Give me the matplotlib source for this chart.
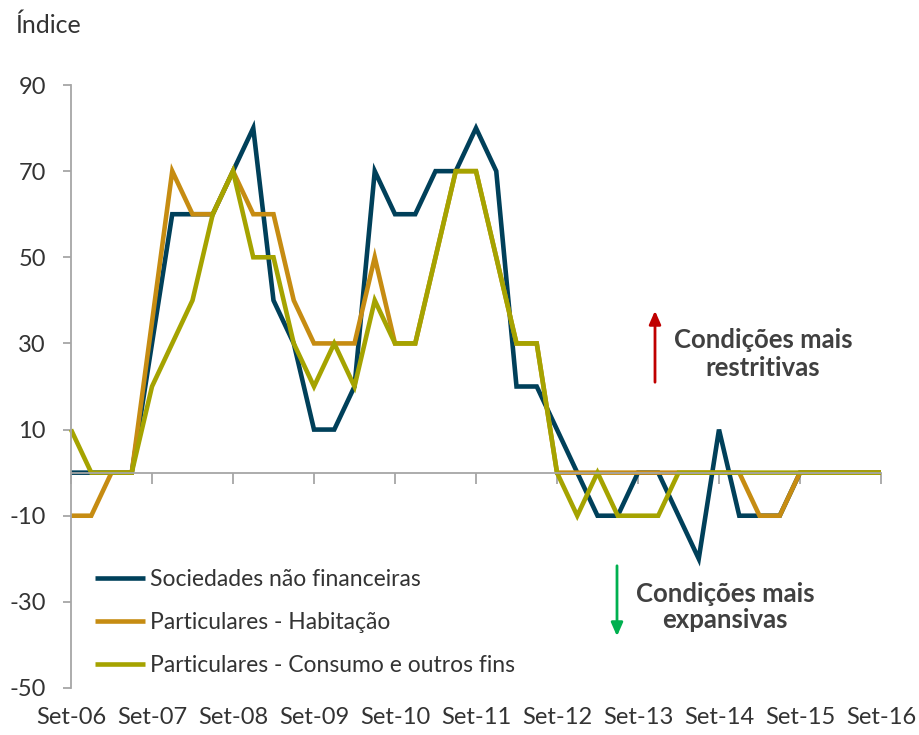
import matplotlib
matplotlib.use("Agg")
import matplotlib.pyplot as plt
import numpy as np

plt.rcParams['font.family'] = ['Lato', 'DejaVu Sans']
plt.rcParams['axes.unicode_minus'] = False

years = ['Set-06', 'Set-07', 'Set-08', 'Set-09', 'Set-10', 'Set-11',
         'Set-12', 'Set-13', 'Set-14', 'Set-15', 'Set-16']

snf = [0, 0, 0, 0, 30, 60, 60, 60, 70, 80, 40, 30, 10, 10, 20, 70, 60, 60, 70, 70,
       80, 70, 20, 20, 10, 0, -10, -10, 0, 0, -10, -20, 10, -10, -10, -10, 0, 0, 0, 0, 0]
hab = [-10, -10, 0, 0, 35, 70, 60, 60, 70, 60, 60, 40, 30, 30, 30, 50, 30, 30, 50, 70,
       70, 50, 30, 30, 0, 0, 0, 0, 0, 0, 0, 0, 0, 0, -10, -10, 0, 0, 0, 0, 0]
cons = [10, 0, 0, 0, 20, 30, 40, 60, 70, 50, 50, 30, 20, 30, 20, 40, 30, 30, 50, 70,
        70, 50, 30, 30, 0, -10, 0, -10, -10, -10, 0, 0, 0, 0, 0, 0, 0, 0, 0, 0, 0]

labels = ['Sociedades não financeiras', 'Particulares - Habitação',
          'Particulares - Consumo e outros fins']
colors = ['#00405A', '#C68C12', '#A5A300']

W, H = 920, 735
fig = plt.figure(figsize=(W / 100, H / 100), dpi=100)
ax = fig.add_axes([71 / W, 1 - 688 / H, (881 - 71) / W, (688 - 85) / H])

x = np.arange(len(snf))
for y, lab, c in zip([snf, hab, cons], labels, colors):
    ax.plot(x, y, color=c, lw=3.3, label=lab, solid_joinstyle='miter',
            solid_capstyle='butt', clip_on=False)

ax.set_xlim(0, 40)
ax.set_ylim(-50, 90)
ax.set_yticks(np.arange(-50, 91, 20))
grey = '#A6A6A6'
txt = '#333333'
for s in ['top', 'right']:
    ax.spines[s].set_visible(False)
ax.spines['left'].set_color(grey)
ax.spines['left'].set_linewidth(1.3)
ax.spines['bottom'].set_position(('data', 0))
ax.spines['bottom'].set_color(grey)
ax.spines['bottom'].set_linewidth(1.3)
ax.tick_params(axis='y', direction='out', length=6, width=1.3, color=grey,
               labelsize=17, labelcolor=txt, pad=12)
ax.set_xticks(np.arange(0, 41, 4))
ax.tick_params(axis='x', direction='out', length=8, width=1.3, color=grey,
               labelbottom=False)

sec = ax.secondary_xaxis(0)
sec.set_xticks(np.arange(0, 41, 4))
sec.set_xticklabels(years)
sec.tick_params(length=0, labelsize=17, labelcolor=txt, pad=14)
sec.spines['bottom'].set_visible(False)

fig.text(15 / W, 1 - 25 / H, 'Índice', fontsize=18, color=txt, va='center', ha='left')

leg = ax.legend(loc='upper left', bbox_to_anchor=(95 / W, 1 - 569 / H),
                bbox_transform=fig.transFigure, frameon=False, fontsize=16.5,
                handlelength=2.2, handletextpad=0.2, labelspacing=0.97,
                borderpad=0, borderaxespad=0)
for t in leg.get_texts():
    t.set_color(txt)

# annotations
ax.annotate('', xy=(655 / W, 1 - 308 / H), xytext=(655 / W, 1 - 385 / H),
            xycoords='figure fraction', textcoords='figure fraction',
            arrowprops=dict(arrowstyle='-|>,head_width=0.35,head_length=0.8',
                            color='#C00000', lw=2))
fig.text(763 / W, 1 - 354 / H, 'Condições mais\nrestritivas', fontsize=18.5,
         fontweight='bold', color='#404040', ha='center', va='center',
         linespacing=1.15)
ax.annotate('', xy=(617 / W, 1 - 639 / H), xytext=(617 / W, 1 - 563 / H),
            xycoords='figure fraction', textcoords='figure fraction',
            arrowprops=dict(arrowstyle='-|>,head_width=0.35,head_length=0.8',
                            color='#00B050', lw=2))
fig.text(725 / W, 1 - 607 / H, 'Condições mais\nexpansivas', fontsize=18.5,
         fontweight='bold', color='#404040', ha='center', va='center',
         linespacing=1.15)

fig.savefig('out.png', dpi=100)
